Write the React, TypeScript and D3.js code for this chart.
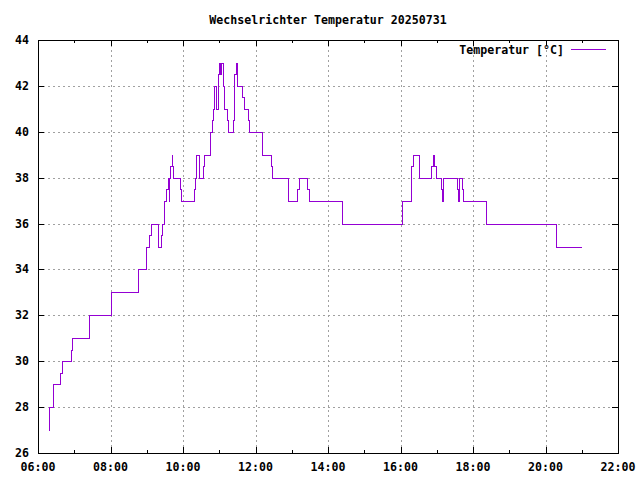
import React from "react";
import * as d3 from "d3";

const title = "Wechselrichter Temperatur 20250731";
const seriesName = "Temperatur [°C]";

const times = [
  "06:17", "06:18", "06:25", "06:37", "06:39", "06:55", "06:57", "07:25", "08:00", "08:01",
  "08:46", "08:59", "09:04", "09:07", "09:19", "09:24", "09:26", "09:29", "09:32", "09:35",
  "09:36", "09:37", "09:39", "09:41", "09:42", "09:43", "09:55", "09:57", "10:19", "10:20",
  "10:22", "10:27", "10:33", "10:35", "10:45", "10:48", "10:50", "10:52", "10:54", "10:58",
  "11:00", "11:02", "11:03", "11:06", "11:08", "11:13", "11:15", "11:22", "11:25", "11:27",
  "11:30", "11:38", "11:41", "11:48", "11:50", "12:10", "12:11", "12:25", "12:27", "12:53",
  "12:54", "13:09", "13:12", "13:26", "13:28", "14:23", "16:02", "16:17", "16:18", "16:20",
  "16:31", "16:51", "16:53", "16:56", "16:58", "17:07", "17:09", "17:10", "17:33", "17:35",
  "17:36", "17:42", "17:44", "18:22", "20:17", "21:00",
];

const temps = [
  27, 28, 29, 29.5, 30, 30.5, 31, 32, 32.5, 33,
  34, 35, 35.5, 36, 35, 35.5, 36, 37, 37.5, 38,
  37, 38, 38.5, 39, 38.5, 38, 37.5, 37, 37.5, 38,
  39, 38, 38.5, 39, 40, 40.5, 41, 42, 41, 42.5,
  43, 42.5, 43, 42, 41, 40.5, 40, 40.5, 42.5, 43,
  42, 41.5, 41, 40.5, 40, 39.5, 39, 38.5, 38, 37.5,
  37, 37.5, 38, 37.5, 37, 36, 37, 38, 38.5, 39,
  38, 38.5, 39, 38.5, 38, 37.5, 37, 38, 37.5, 37,
  38, 37.5, 37, 36, 35, 35,
];

const yTicks = [26, 28, 30, 32, 34, 36, 38, 40, 42, 44];
const xTickLabels = ["06:00", "08:00", "10:00", "12:00", "14:00", "16:00", "18:00", "20:00", "22:00"];
const xMinorLabels = ["07:00", "09:00", "11:00", "13:00", "15:00", "17:00", "19:00", "21:00"];

const parse = d3.timeParse("%H:%M");

export default function App() {
  const left = 38, right = 618, top = 40, bottom = 453;
  const x = d3.scaleTime().domain([parse("06:00")!, parse("22:00")!]).range([left, right]);
  const y = d3.scaleLinear().domain([26, 44]).range([bottom, top]);
  const data = times.map((t, i) => ({ t: parse(t)!, v: temps[i] }));
  const line = d3
    .line<{ t: Date; v: number }>()
    .x((d) => x(d.t))
    .y((d) => y(d.v))
    .curve(d3.curveStepAfter);
  const font = "'DejaVu Sans Mono', monospace";
  const fs = 11.6;
  const grid = "#a0a0a0";
  const r = (v: number) => Math.round(v) + 0.5;
  const majorLen = 6;
  const minorLen = 3;

  return (
    <svg width={640} height={480} style={{ position: "absolute", left: 0, top: 0, background: "#fff" }}>
      <rect x={0} y={0} width={640} height={480} fill="#fff" />
      {/* grid */}
      <g stroke={grid} strokeWidth={1} strokeDasharray="2,3" shapeRendering="crispEdges">
        {yTicks.slice(1, -1).map((v) => (
          <line key={"gy" + v} x1={left} x2={right} y1={r(y(v))} y2={r(y(v))} />
        ))}
        {xTickLabels.slice(1, -1).map((t) => (
          <line key={"gx" + t} x1={r(x(parse(t)!))} x2={r(x(parse(t)!))} y1={top} y2={bottom} />
        ))}
      </g>
      {/* ticks */}
      <g stroke="#000" strokeWidth={1} shapeRendering="crispEdges">
        {yTicks.map((v) => (
          <g key={"ty" + v}>
            <line x1={left} x2={left + majorLen} y1={r(y(v))} y2={r(y(v))} />
            <line x1={right - majorLen} x2={right} y1={r(y(v))} y2={r(y(v))} />
          </g>
        ))}
        {xTickLabels.map((t) => (
          <g key={"tx" + t}>
            <line x1={r(x(parse(t)!))} x2={r(x(parse(t)!))} y1={bottom} y2={bottom - majorLen} />
            <line x1={r(x(parse(t)!))} x2={r(x(parse(t)!))} y1={top} y2={top + majorLen} />
          </g>
        ))}
        {xMinorLabels.map((t) => (
          <g key={"tm" + t}>
            <line x1={r(x(parse(t)!))} x2={r(x(parse(t)!))} y1={bottom} y2={bottom - minorLen} />
            <line x1={r(x(parse(t)!))} x2={r(x(parse(t)!))} y1={top} y2={top + minorLen} />
          </g>
        ))}
      </g>
      {/* data */}
      <path
        d={line(data) || ""}
        fill="none"
        stroke="#9400d3"
        strokeWidth={1}
        shapeRendering="crispEdges"
        transform="translate(0.5,0.5)"
      />
      {/* border */}
      <rect
        x={left + 0.5}
        y={top + 0.5}
        width={right - left}
        height={bottom - top}
        fill="none"
        stroke="#000"
        strokeWidth={1}
        shapeRendering="crispEdges"
      />
      {/* labels */}
      <g fontFamily={font} fontSize={fs} fontWeight="bold" fill="#000">
        {yTicks.map((v) => (
          <text key={"ly" + v} x={29} y={y(v) + 4} textAnchor="end">
            {v}
          </text>
        ))}
        {xTickLabels.map((t) => (
          <text key={"lx" + t} x={x(parse(t)!)} y={471} textAnchor="middle">
            {t}
          </text>
        ))}
        <text x={(left + right) / 2} y={24} textAnchor="middle">
          {title}
        </text>
        <text x={564} y={54} textAnchor="end">
          {seriesName}
        </text>
      </g>
      <line x1={571} x2={606} y1={49.5} y2={49.5} stroke="#9400d3" strokeWidth={1} />
    </svg>
  );
}
